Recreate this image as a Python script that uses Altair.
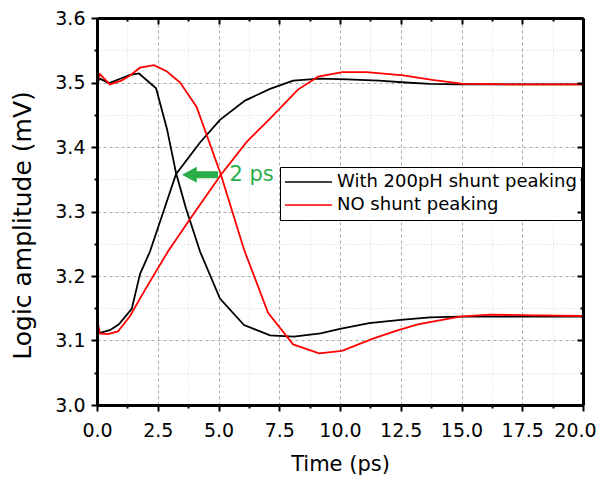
import altair as alt
import pandas as pd

# ---------------- data ----------------
series_names = ["With 200pH shunt peaking", "NO shunt peaking"]
series_colors = ["#000000", "#ff0000"]

# black, falling edge
t_shunt_fall = [0, 0.12, 0.5, 0.9, 1.36, 1.73, 2.43, 2.88, 3.25, 3.66, 4.24, 5.06, 6.05, 7.12, 8.1,
                9.2, 10.0, 11.2, 12.5, 13.7, 14.9, 16.5, 18, 20]
v_shunt_fall = [3.500, 3.506, 3.499, 3.505, 3.512, 3.514, 3.491, 3.428, 3.360, 3.305, 3.238, 3.165,
                3.124, 3.108, 3.106, 3.111, 3.118, 3.127, 3.132, 3.136, 3.137, 3.137, 3.137, 3.137]
# black, rising edge
t_shunt_rise = [0, 0.12, 0.53, 0.9, 1.43, 1.77, 2.18, 2.7, 3.25, 4.24, 5.06, 6.09, 7.12, 8.07,
                9.18, 10.3, 11.6, 12.7, 13.7, 14.9, 17, 20]
v_shunt_rise = [3.113, 3.112, 3.116, 3.125, 3.149, 3.203, 3.238, 3.296, 3.358, 3.407, 3.442, 3.472,
                3.490, 3.503, 3.506, 3.505, 3.503, 3.500, 3.498, 3.497, 3.497, 3.497]
# red, falling edge
t_no_fall = [0, 0.12, 0.53, 1.0, 1.36, 1.77, 2.35, 2.88, 3.42, 4.1, 5.1, 6.05, 7.04, 8.07, 9.14,
             10.08, 11.36, 12.3, 13.2, 14.2, 14.94, 16.2, 18, 20]
v_no_fall = [3.500, 3.513, 3.497, 3.503, 3.511, 3.523, 3.527, 3.517, 3.500, 3.462, 3.357, 3.241,
             3.143, 3.094, 3.080, 3.084, 3.103, 3.115, 3.125, 3.132, 3.137, 3.140, 3.139, 3.138]
# red, rising edge
t_no_rise = [0, 0.12, 0.45, 0.86, 1.36, 2.0, 2.92, 3.95, 5.1, 6.16, 7.12, 8.27, 9.1, 10.1, 11.1,
             12.6, 13.8, 15.07, 17.1, 20]
v_no_rise = [3.134, 3.111, 3.110, 3.114, 3.138, 3.180, 3.238, 3.295, 3.357, 3.408, 3.444, 3.489,
             3.509, 3.516, 3.516, 3.511, 3.504, 3.498, 3.497, 3.497]

x_major = [0, 2.5, 5, 7.5, 10, 12.5, 15, 17.5, 20]
x_minor = [1.25, 3.75, 6.25, 8.75, 11.25, 13.75, 16.25, 18.75]
y_major = [3.0, 3.1, 3.2, 3.3, 3.4, 3.5, 3.6]
y_minor = [3.05, 3.15, 3.25, 3.35, 3.45, 3.55]

arrow_t = [4.24]
arrow_v = [3.357]
note_t = [5.45]
note_v = [3.357]
note_text = ["2 ps"]

# ---------------- build table ----------------
rows = []
for name, curve, ts, vs in [
    (series_names[0], "a", t_shunt_fall, v_shunt_fall),
    (series_names[0], "b", t_shunt_rise, v_shunt_rise),
    (series_names[1], "c", t_no_fall, v_no_fall),
    (series_names[1], "d", t_no_rise, v_no_rise),
]:
    for t, v in zip(ts, vs):
        rows.append({"series": name, "curve": curve, "t": t, "v": v})
df = pd.DataFrame(rows)

arrow_df = pd.DataFrame({"t": arrow_t, "v": arrow_v})
note_df = pd.DataFrame({"t": note_t, "v": note_v, "label": note_text})

FONT = "DejaVu Sans"
GREEN = "#2aae4a"
W, H = 486, 387

xs = alt.Scale(domain=[0, 20], nice=False, zero=False)
ys = alt.Scale(domain=[3.0, 3.6], nice=False, zero=False)


def axis_layer(xa, ya):
    return alt.Chart(df).mark_line(strokeOpacity=0).encode(
        x=alt.X("t:Q", scale=xs, axis=xa),
        y=alt.Y("v:Q", scale=ys, axis=ya),
        detail="curve:N",
    )


def plain_axis(values, orient, **kw):
    base = dict(values=values, orient=orient, labels=False, title=None, grid=False,
                ticks=False, domain=False)
    base.update(kw)
    return alt.Axis(**base)


grid_minor = axis_layer(
    plain_axis(x_minor, "bottom", grid=True, gridColor="#dadada", gridDash=[1, 2], gridWidth=1,
               ticks=True, tickSize=3, tickWidth=2, tickColor="black", zindex=0),
    plain_axis(y_minor, "left", grid=True, gridColor="#dadada", gridDash=[1, 2], gridWidth=1,
               ticks=True, tickSize=3, tickWidth=2, tickColor="black", zindex=0),
)

grid_major = axis_layer(
    plain_axis(x_major, "bottom", grid=True, gridColor="#a8a8a8", gridDash=[3, 3], gridWidth=1, zindex=0),
    plain_axis(y_major, "left", grid=True, gridColor="#a8a8a8", gridDash=[3, 3], gridWidth=1, zindex=0),
)

lines = alt.Chart(df).mark_line(strokeWidth=1.8).encode(
    x=alt.X("t:Q", scale=xs, axis=alt.Axis(
        values=x_major, orient="bottom", format=".1f", grid=False,
        labelFont=FONT, labelFontSize=19, labelColor="black", labelPadding=10,
        labelFlush=False, labelOverlap=False,
        labelOffset={"condition": {"test": "datum.value == 20", "value": -8}, "value": 0},
        ticks=True, tickSize=6, tickWidth=2, tickColor="black",
        domain=True, domainColor="black", domainWidth=3,
        title="Time (ps)", titleFont=FONT, titleFontSize=21, titleFontWeight="normal",
        titleColor="black", titlePadding=13, zindex=1)),
    y=alt.Y("v:Q", scale=ys, axis=alt.Axis(
        values=y_major, orient="left", format=".1f", grid=False,
        labelFont=FONT, labelFontSize=19, labelColor="black", labelPadding=6,
        labelFlush=False, labelOverlap=False,
        ticks=True, tickSize=6, tickWidth=2, tickColor="black",
        domain=True, domainColor="black", domainWidth=3,
        title="Logic amplitude (mV)", titleFont=FONT, titleFontSize=25, titleFontWeight="normal",
        titleColor="black", titlePadding=19, titleY=207, zindex=1)),
    color=alt.Color("series:N", scale=alt.Scale(domain=series_names, range=series_colors),
                    legend=alt.Legend(
                        title=None, orient="none", legendX=183, legendY=149,
                        direction="vertical", symbolType="stroke", symbolSize=2209,
                        symbolStrokeWidth=1.5, clipHeight=22, rowPadding=1, padding=4,
                        strokeColor="black", fillColor="white", cornerRadius=0,
                        labelFont=FONT, labelFontSize=18, labelColor="black",
                        labelOffset=4, labelLimit=400)),
    detail="curve:N",
)

mirror_major = axis_layer(
    plain_axis(x_major, "bottom", offset=-H, ticks=True, tickSize=6, tickWidth=2, tickColor="black",
               domain=True, domainColor="black", domainWidth=3, zindex=1),
    plain_axis(y_major, "left", offset=-W, ticks=True, tickSize=6, tickWidth=2, tickColor="black",
               domain=True, domainColor="black", domainWidth=3, zindex=1),
)

mirror_minor = axis_layer(
    plain_axis(x_minor, "bottom", offset=-H, ticks=True, tickSize=3, tickWidth=2, tickColor="black", zindex=1),
    plain_axis(y_minor, "left", offset=-W, ticks=True, tickSize=3, tickWidth=2, tickColor="black", zindex=1),
)

ARROW = "M -1 0 L -0.18 -0.44 L -0.18 -0.19 L 1 -0.19 L 1 0.19 L -0.18 0.19 L -0.18 0.44 Z"
arrow = alt.Chart(arrow_df).mark_point(shape=ARROW, filled=True, size=1296, color=GREEN,
                                       opacity=1, strokeWidth=0).encode(
    x=alt.X("t:Q", scale=xs, axis=None),
    y=alt.Y("v:Q", scale=ys, axis=None),
)

note = alt.Chart(note_df).mark_text(align="left", baseline="middle", font=FONT, fontSize=21,
                                    color=GREEN).encode(
    x=alt.X("t:Q", scale=xs, axis=None),
    y=alt.Y("v:Q", scale=ys, axis=None),
    text="label:N",
)

chart = alt.layer(grid_minor, grid_major, lines, mirror_major, mirror_minor, arrow, note).resolve_axis(
    x="independent", y="independent"
).properties(
    width=W, height=H,
    autosize=alt.AutoSizeParams(type="none"),
    padding={"left": 89, "top": 10, "right": 15, "bottom": 70},
).configure_view(stroke=None).configure_legend(strokeWidth=1)

chart.save("out.html", embed_options={"renderer": "svg", "actions": False})
